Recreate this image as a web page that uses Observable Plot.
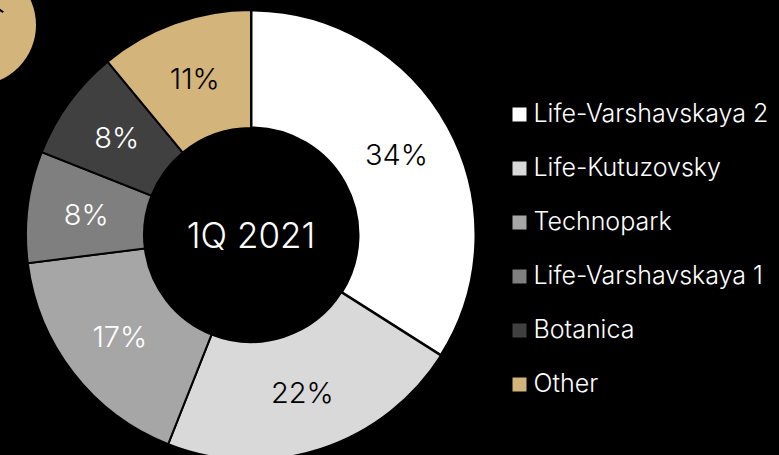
<!DOCTYPE html>
<html>
<head>
<meta charset="utf-8">
<script src="https://cdn.jsdelivr.net/npm/d3@7"></script>
<script src="https://cdn.jsdelivr.net/npm/@observablehq/plot@0.6"></script>
<style>
  html, body { margin: 0; padding: 0; background: #000; overflow: hidden; }
  #chart { position: relative; width: 779px; height: 455px; }
  #badge { position: absolute; left: -84px; top: -35px; width: 120px; height: 120px; border-radius: 50%; background: #d3b47b; }
  #badge::after { content: ""; position: absolute; left: 80px; top: 44px; width: 8px; height: 2px; background: #000; transform: rotate(35deg); }
</style>
</head>
<body>
<div id="chart"><div id="badge"></div></div>
<script>
const categories = ["Life-Varshavskaya 2", "Life-Kutuzovsky", "Technopark", "Life-Varshavskaya 1", "Botanica", "Other"];
const shares = [34, 22, 17, 8, 8, 11];
const colors = ["#ffffff", "#d9d9d9", "#a6a6a6", "#7f7f7f", "#404040", "#d3b47b"];
const labelColors = ["#000", "#000", "#fff", "#fff", "#fff", "#000"];
const centerTitle = "1Q 2021";

const data = categories.map((c, i) => ({category: c, share: shares[i], labelColor: labelColors[i]}));

const colorScale = Plot.scale({color: {domain: categories, range: colors}});
const FONT = "Inter, 'Noto Sans', sans-serif";

const cx = 251, cy = 235, rOuter = 225, rInner = 107;

function donut() {
  const pie = d3.pie().value(d => d.share).sort(null);
  const arc = d3.arc().innerRadius(rInner).outerRadius(rOuter);
  const arcs = pie(data);
  const g = d3.create("svg:g").attr("transform", `translate(${cx},${cy})`);
  g.selectAll("path").data(arcs).join("path")
    .attr("d", arc)
    .attr("fill", d => colorScale.apply(d.data.category))
    .attr("stroke", "#000")
    .attr("stroke-width", d => d.index === 0 ? 3 : 2)
    .attr("stroke-linejoin", "miter");
  g.selectAll("text.pct").data(arcs).join("text")
    .attr("class", "pct")
    .attr("transform", d => `translate(${arc.centroid(d)})`)
    .attr("text-anchor", "middle")
    .attr("dy", "0.36em")
    .attr("fill", d => d.data.labelColor)
    .attr("font-family", FONT)
    .attr("font-weight", 300)
    .attr("font-size", 29)
    .text(d => d.data.share + "%");
  g.append("text")
    .attr("text-anchor", "middle")
    .attr("dy", "0.36em")
    .attr("fill", "#fff")
    .attr("font-family", FONT)
    .attr("font-weight", 300)
    .attr("font-size", 35)
    .text(centerTitle);
  return g.node();
}

const chart = Plot.plot({
  width: 779,
  height: 455,
  margin: 0,
  style: {background: "transparent", color: "#fff", fontFamily: FONT, overflow: "visible"},
  x: {domain: [0, 779], range: [0, 779], axis: null},
  y: {type: "point", domain: categories, range: [112, 385], padding: 0, axis: null},
  color: {domain: categories, range: colors},
  marks: [
    donut,
    Plot.dot(categories, {x: 519, y: d => d, fill: d => d, symbol: "square", r: 7.9, stroke: null}),
    Plot.text(categories, {x: 533, y: d => d, text: d => d, textAnchor: "start", fill: "#fff", fontSize: 25, fontWeight: 300, fontFamily: FONT, dy: -1})
  ]
});
document.getElementById("chart").appendChild(chart);
chart.style.position = "absolute";
chart.style.left = "0";
chart.style.top = "0";
</script>
</body>
</html>
